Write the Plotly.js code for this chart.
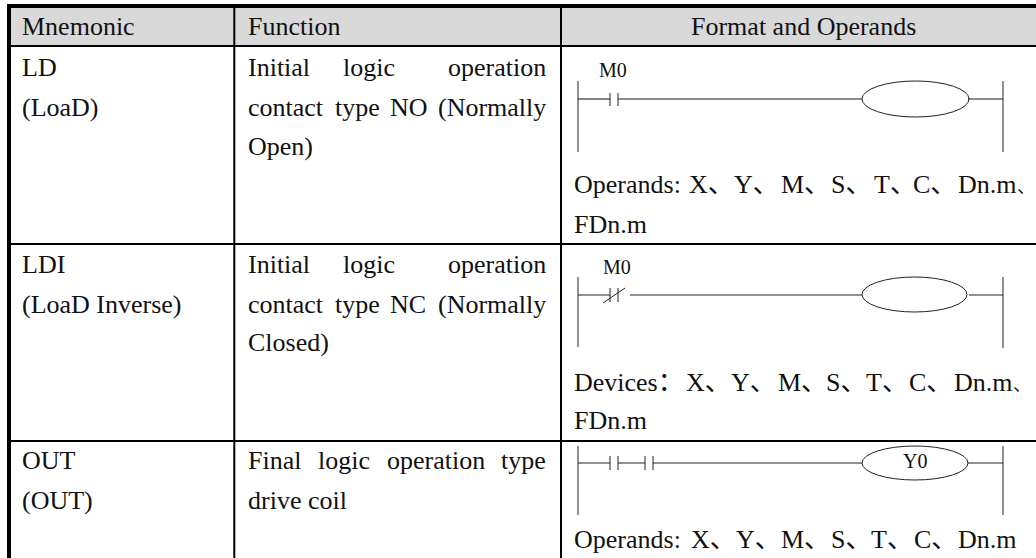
<!DOCTYPE html>
<html>
<head>
<meta charset="utf-8">
<script src="https://cdn.plot.ly/plotly-3.0.1.min.js"></script>
<style>html,body{margin:0;padding:0;background:#fff}#c{width:1036px;height:558px}</style>
</head>
<body>
<div id="c"></div>
<script>
// ---- text content ----
const headerText = ["Mnemonic", "Function", "Format and Operands"];
const mnemonicText = ["LD", "(LoaD)", "LDI", "(LoaD Inverse)", "OUT", "(OUT)"];
const functionText = [
  "Initial", "logic", "operation",
  "contact", "type", "NO", "(Normally",
  "Open)",
  "Initial", "logic", "operation",
  "contact", "type", "NC", "(Normally",
  "Closed)",
  "Final", "logic", "operation", "type",
  "drive coil"
];
const operandText = [
  "Operands:", "X、", "Y、", "M、", "S、", "T、", "C、", "Dn.m", "FDn.m",
  "Devices：", "X、", "Y、", "M、", "S、", "T、", "C、", "Dn.m", "FDn.m",
  "Operands:", "X、", "Y、", "M、", "S、", "T、", "C、", "Dn.m"
];
const trailingMarks = ["、", "、"];
const deviceLabels = ["M0", "M0", "Y0"];

// ---- text placement (page pixels, used as axis values) ----
const headerX = [22, 248, 691], headerY = [28, 28, 28];
const mnemonicX = [22, 22, 22, 22, 22, 22];
const mnemonicY = [69, 109, 266, 306, 462, 502];
const functionX = [248,343,448, 248,335,390,438, 248, 248,343,448, 248,335,390,438, 248, 248,318,387,501, 248];
const functionY = [69,69,69, 109,109,109,109, 148, 266,266,266, 306,306,306,306, 344, 462,462,462,462, 502];
const operandX = [574,689,734,781,831,874,913,958,574, 574,686,731,778,826,866,909,954,574, 574,691,736,781,831,871,914,958];
const operandY = [186,186,186,186,186,186,186,186,226, 384,384,384,384,384,384,384,384,422, 541,541,541,541,541,541,541,541];
const trailingX = [1017, 1013], trailingY = [188.5, 386.5];
const deviceX = [599, 603, 903], deviceY = [72, 269, 463];

// ---- table rules: [x0,y0,x1,y1] ----
const heavyRules = [[9,4,9,558],[7,6,1036,6]];
const thinRules = [[234.3,6,234.3,558],[561,6,561,558],[9,46,1036,46],[9,244,1036,244],[9,441,1036,441]];

// ---- ladder diagrams: segments [x0,y0,x1,y1] ----
const rungGray = [[578,99,610,99],[618,99,862,99],[968,99,1003,99]];
const wireBlack = [
  [578,81,578,152],[1003,81,1003,152],[610,93,610,106],[618,93,618,106],
  [578,277,578,347],[1003,277,1003,348],[578,295,610,295],[630,295,862,295],[969,295,1003,295],
  [610,288,610,302],[618,288,618,302],[603,303,625,288],
  [578,446,578,515],[1003,446,1003,515],[578,463,610,463],[618,463,645,463],[653,463,862,463],[968,463,1003,463],
  [610,456,610,470],[618,456,618,470],[645,456,645,470],[653,456,653,470]
];
const coils = [[862,81,969,117],[862,277,967,312],[862,446,968,480]];

function segs(list){
  const x=[],y=[];
  list.forEach(s=>{x.push(s[0],s[2],null);y.push(s[1],s[3],null);});
  return {x,y};
}
function lineTrace(list,color,width){
  const p=segs(list);
  return {type:"scatter",mode:"lines",x:p.x,y:p.y,line:{color,width,shape:"linear"},hoverinfo:"skip",showlegend:false,connectgaps:false};
}
const family='"Liberation Serif","Noto Sans CJK SC",serif';
function textTrace(t,x,y,size,pos){
  return {type:"scatter",mode:"text",x,y,text:t,textposition:pos,textfont:{family,size,color:"#111"},hoverinfo:"skip",showlegend:false,cliponaxis:false};
}
const traces=[
  lineTrace(heavyRules,"#000",4),
  lineTrace(thinRules,"#000",2),
  lineTrace(rungGray,"#666",1.6),
  lineTrace(wireBlack,"#222",1),
  textTrace(headerText,headerX,headerY,26,"middle right"),
  textTrace(mnemonicText,mnemonicX,mnemonicY,26,"middle right"),
  textTrace(functionText,functionX,functionY,26,"middle right"),
  textTrace(operandText,operandX,operandY,26,"middle right"),
  textTrace(trailingMarks,trailingX,trailingY,18,"middle right"),
  textTrace(deviceLabels,deviceX,deviceY,20,"middle right")
];
const shapes=[
  {type:"rect",layer:"below",xref:"x",yref:"y",x0:11,y0:8,x1:1036,y1:45,fillcolor:"#d9d9d9",line:{width:0}}
].concat(coils.map(c=>({type:"circle",layer:"above",xref:"x",yref:"y",x0:c[0],y0:c[1],x1:c[2],y1:c[3],fillcolor:"rgba(0,0,0,0)",line:{color:"#222",width:1}})));
Plotly.newPlot("c",traces,{
  width:1036,height:558,margin:{l:0,r:0,t:0,b:0,pad:0},
  paper_bgcolor:"#fff",plot_bgcolor:"#fff",showlegend:false,
  xaxis:{range:[0,1036],visible:false,fixedrange:true},
  yaxis:{range:[558,0],visible:false,fixedrange:true},
  shapes
},{displayModeBar:false,staticPlot:true});
</script>
</body>
</html>
